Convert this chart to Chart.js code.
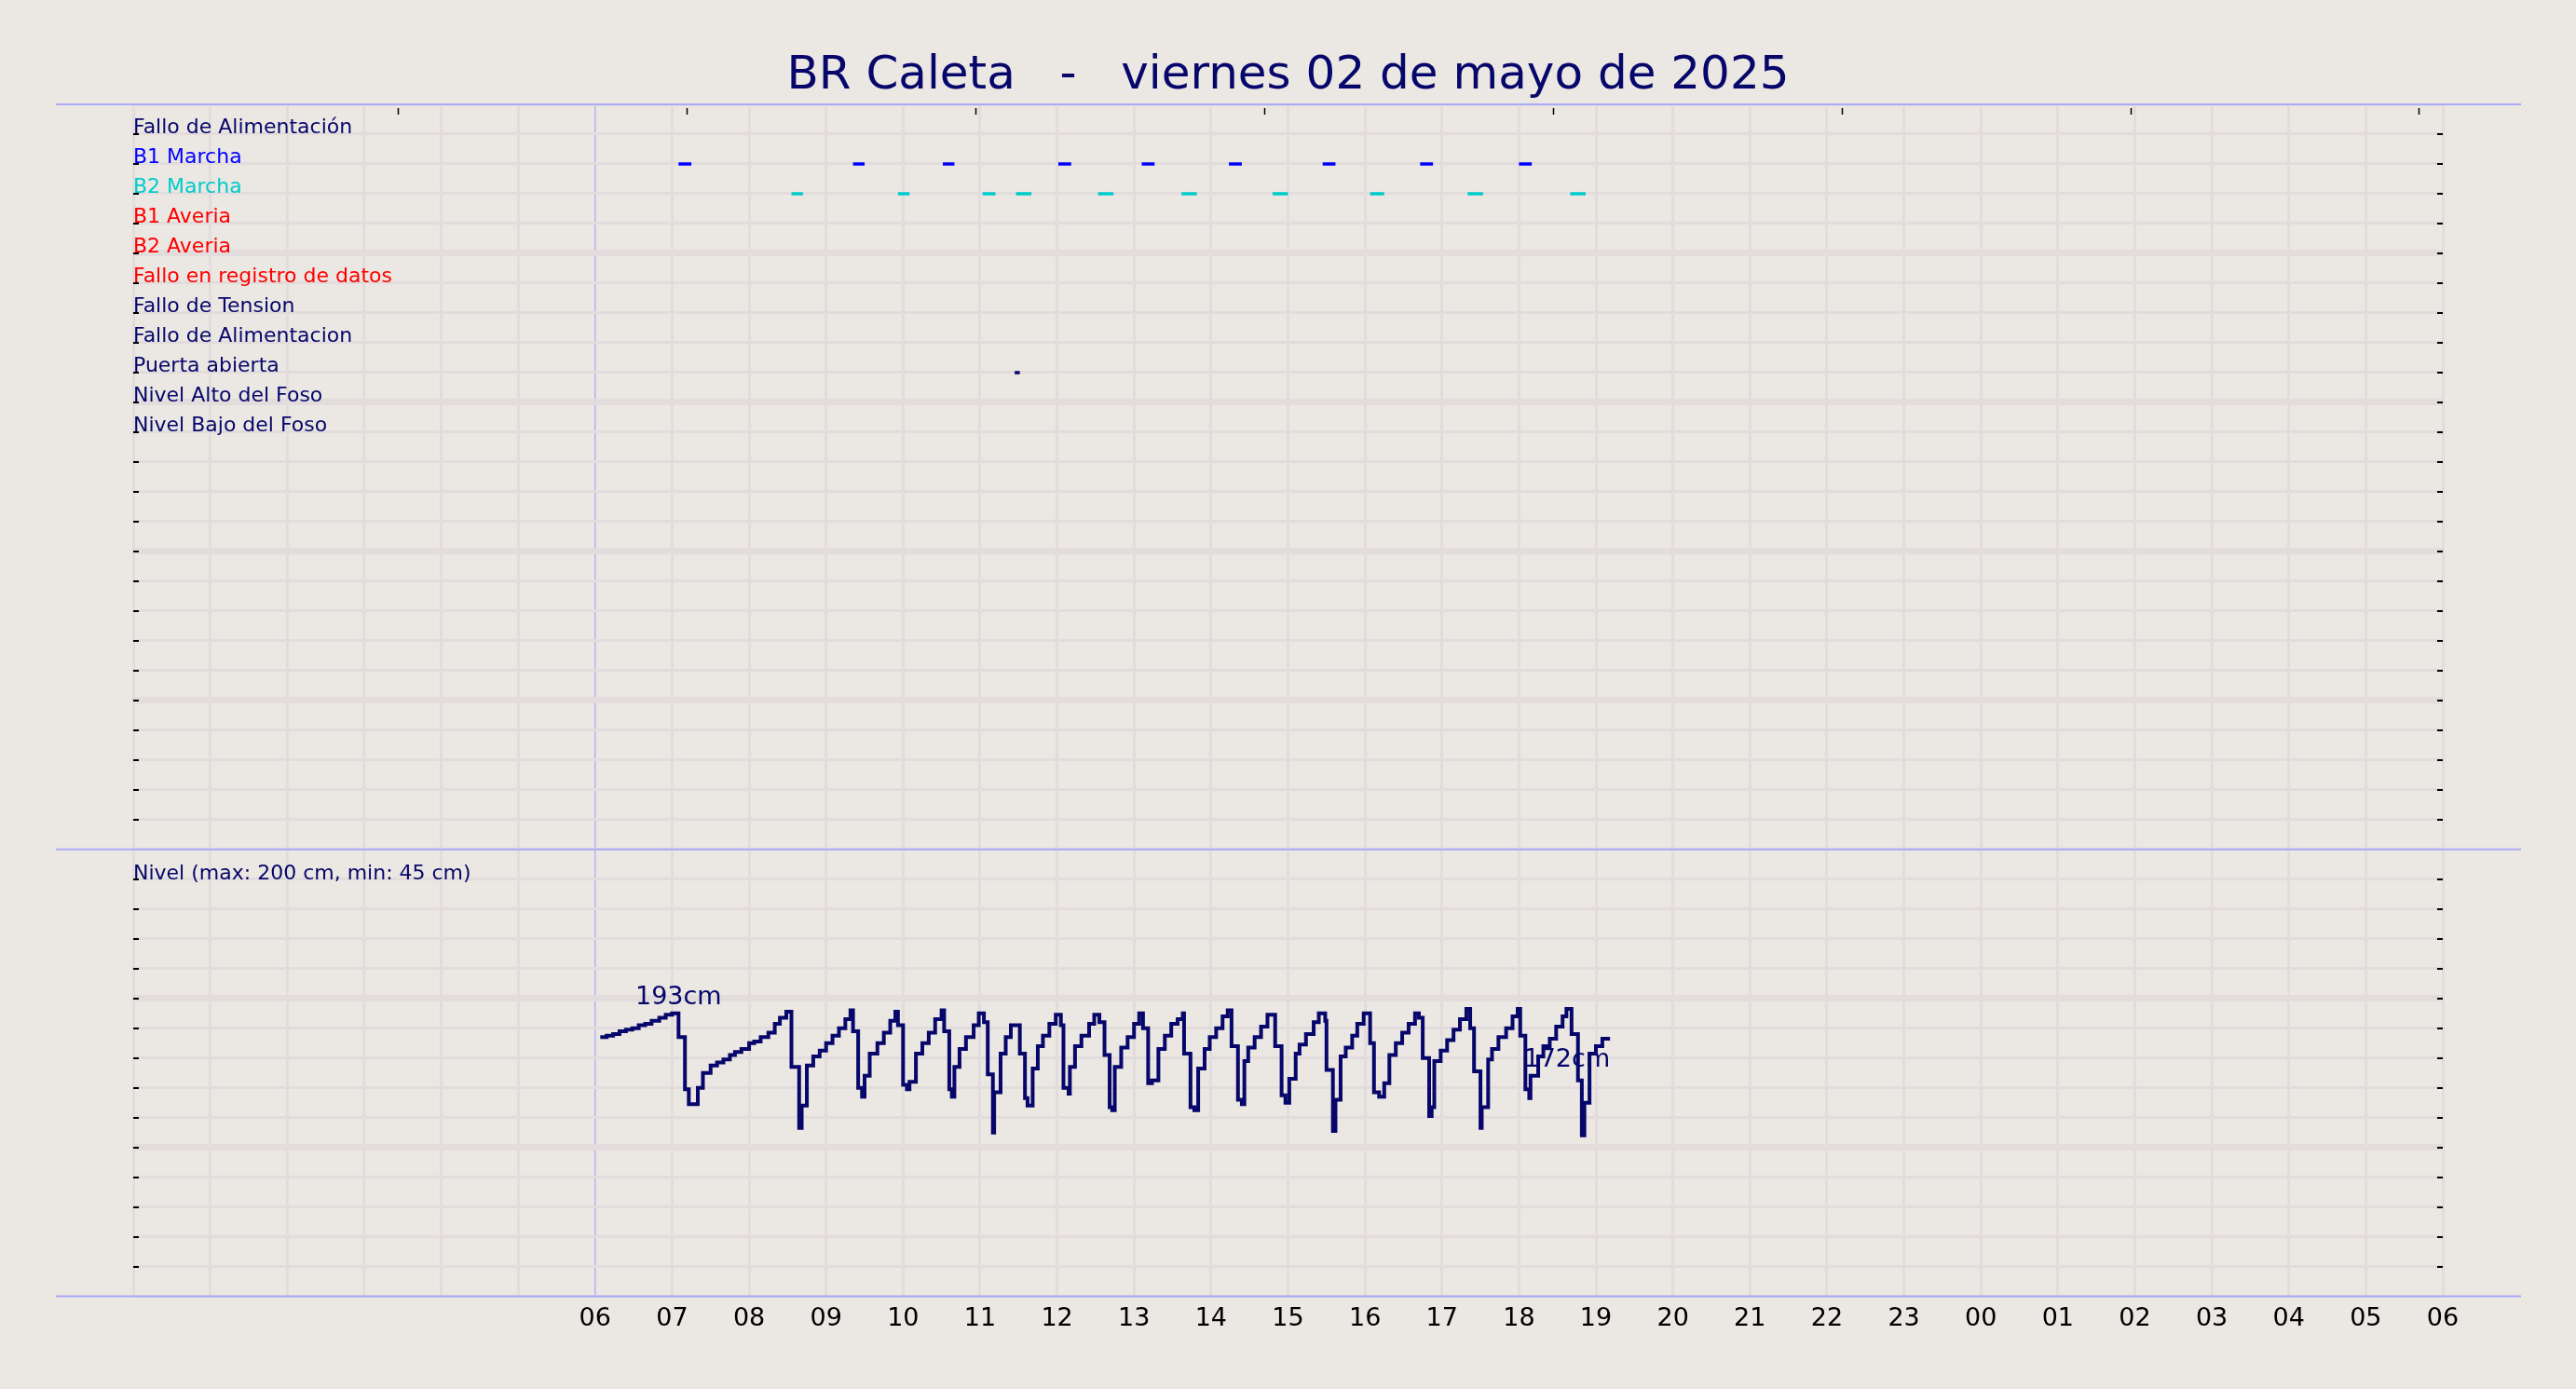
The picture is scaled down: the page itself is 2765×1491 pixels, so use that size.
<!DOCTYPE html>
<html lang="es">
<head>
<meta charset="utf-8">
<title>BR Caleta - Nivel y estados</title>
<script src="https://cdn.jsdelivr.net/npm/chart.js@4.4.1/dist/chart.umd.min.js"></script>
<style>
  html, body { margin: 0; padding: 0; background: #ebe7e2; }
  #chartBox { position: relative; width: 2765px; height: 1491px; }
</style>
</head>
<body>
<div id="chartBox"><canvas id="grafico"></canvas></div>
<script>
const titulo = 'BR Caleta   -   viernes 02 de mayo de 2025';

// -------------------- Datos --------------------
// filas del panel de estados (fila 1 = arriba)
const senales = ['Fallo de Alimentación', 'B1 Marcha', 'B2 Marcha', 'B1 Averia', 'B2 Averia',
    'Fallo en registro de datos', 'Fallo de Tension', 'Fallo de Alimentacion', 'Puerta abierta',
    'Nivel Alto del Foso', 'Nivel Bajo del Foso'];
const coloresSenal = ['#06066b', '#0000ff', '#00cccc', '#ff0000', '#ff0000', '#ff0000',
    '#06066b', '#06066b', '#06066b', '#06066b', '#06066b'];

const b1Inicio = ['07:05', '09:21', '10:31', '12:01', '13:06', '14:14', '15:27', '16:43', '18:00'];
const b1Fin    = ['07:15', '09:30', '10:40', '12:11', '13:16', '14:24', '15:37', '16:53', '18:10'];
const b2Inicio = ['08:33', '09:56', '11:02', '11:28', '12:32', '13:37', '14:48', '16:04', '17:20', '18:40'];
const b2Fin    = ['08:42', '10:05', '11:12', '11:40', '12:44', '13:49', '15:00', '16:15', '17:32', '18:52'];
const puertaInicio = ['11:27'];
const puertaFin    = ['11:31'];

const nivelTexto = 'Nivel (max: 200 cm, min: 45 cm)';
const nivelHora = [
    '06:04', '06:09', '06:14', '06:19', '06:24', '06:29', '06:34', '06:39', '06:44', '06:50', '06:55', '07:00',
    '07:05', '07:10', '07:13', '07:20', '07:24', '07:30', '07:35', '07:40', '07:45', '07:49', '07:54', '08:00',
    '08:04', '08:09', '08:15', '08:20', '08:24', '08:29',
    '08:33', '08:39', '08:41', '08:45', '08:50', '08:55', '09:00', '09:05', '09:10', '09:15', '09:19',
    '09:21', '09:25', '09:28', '09:30', '09:34', '09:40', '09:45', '09:50', '09:54',
    '09:56', '10:00', '10:03', '10:05', '10:10', '10:15', '10:20', '10:25', '10:30',
    '10:32', '10:36', '10:38', '10:40', '10:44', '10:49', '10:55', '10:59',
    '11:03', '11:06', '11:10', '11:11', '11:16', '11:20', '11:24',
    '11:31', '11:35', '11:37', '11:41', '11:45', '11:49', '11:54', '11:59',
    '12:03', '12:05', '12:09', '12:10', '12:14', '12:19', '12:25', '12:29',
    '12:33', '12:37', '12:41', '12:43', '12:45', '12:50', '12:55', '13:00', '13:04',
    '13:07', '13:11', '13:14', '13:19', '13:24', '13:29', '13:34', '13:38',
    '13:39', '13:44', '13:47', '13:50', '13:55', '13:59', '14:04', '14:09', '14:13',
    '14:16', '14:21', '14:24', '14:26', '14:29', '14:34', '14:39', '14:44',
    '14:50', '14:55', '14:58', '15:01', '15:06', '15:09', '15:14', '15:20', '15:24',
    '15:29', '15:30', '15:35', '15:37', '15:41', '15:45', '15:50', '15:54', '15:59',
    '16:04', '16:07', '16:11', '16:15', '16:19', '16:24', '16:29', '16:34', '16:39',
    '16:42', '16:45', '16:50', '16:52', '16:54', '16:59', '17:04', '17:09', '17:14', '17:19',
    '17:22', '17:25', '17:30', '17:31', '17:36', '17:39', '17:44', '17:50', '17:55', '17:59',
    '18:01', '18:05', '18:08', '18:09', '18:15', '18:19', '18:24', '18:29', '18:34', '18:37',
    '18:41', '18:46', '18:49', '18:51', '18:55', '19:00', '19:05', '19:11'
];
const nivelCm = [
    174, 175, 176, 178, 179, 180, 182, 183, 185, 187, 189, 190,
    174, 139, 129, 140, 150, 155, 157, 159, 162, 164, 166, 170,
    171, 174, 177, 183, 187, 191,
    154, 113, 128, 155, 161, 165, 170, 175, 180, 186, 192,
    178, 140, 134, 148, 163, 170, 177, 185, 191,
    182, 142, 139, 144, 163, 170, 177, 186, 192,
    178, 139, 134, 154, 166, 174, 182, 190,
    184, 149, 110, 137, 163, 174, 182,
    163, 133, 128, 153, 168, 175, 183, 189,
    182, 140, 136, 154, 168, 175, 183, 189,
    184, 162, 127, 125, 154, 167, 174, 183, 190,
    180, 143, 145, 166, 175, 183, 186, 190,
    163, 127, 125, 153, 166, 174, 180, 188, 192,
    168, 132, 129, 158, 167, 174, 181, 189,
    168, 135, 130, 146, 163, 169, 176, 184, 190,
    185, 152, 111, 132, 161, 167, 175, 183, 190,
    170, 137, 134, 143, 162, 170, 177, 183, 190,
    187, 160, 121, 127, 158, 165, 172, 179, 186, 193,
    180, 151, 113, 127, 159, 166, 174, 180, 188, 193,
    175, 139, 133, 148, 161, 168, 173, 181, 188, 193,
    176, 145, 108, 130, 163, 168, 173, 173
];

const etiquetaMax = { texto: '193cm', hora: '07:05', cm: 193 };
const etiquetaActual = { texto: '172cm', hora: '19:11', cm: 173 };

// etiquetas del eje horario, desde las 06 hasta las 06 del dia siguiente
const horasEje = ['06', '07', '08', '09', '10', '11', '12', '13', '14', '15', '16', '17', '18',
    '19', '20', '21', '22', '23', '00', '01', '02', '03', '04', '05', '06'];
// marcas cortas en el borde superior (horas)
const ticksSuperiores = [3.44, 7.19, 10.94, 14.69, 18.44, 22.19, 25.94, 29.69];

// -------------------- Estilo --------------------
const navy = '#06066b';
const gridColor = '#e2dcdc';
const lineaAzul = '#aaaaf6';
Chart.defaults.font.family = '"DejaVu Sans", sans-serif';

function aHoras(t) {
    const [h, m] = t.split(':').map(Number);
    return h + m / 60;
}

function tramos(inicio, fin, fila) {
    const pts = [];
    inicio.forEach((t, i) => {
        pts.push({ x: aHoras(t), y: fila }, { x: aHoras(fin[i]), y: fila }, { x: aHoras(fin[i]), y: null });
    });
    return pts;
}

const puntosNivel = nivelHora.map((t, i) => ({ x: aHoras(t), y: nivelCm[i] }));

// -------------------- Dibujo extra (lineas, marcas, etiquetas) --------------------
const decoracion = {
    id: 'decoracion',
    beforeDatasetsDraw(chart) {
        const { ctx, chartArea: a, scales } = chart;
        ctx.save();
        ctx.strokeStyle = lineaAzul;
        ctx.lineWidth = 2;
        [scales.yEstados.top, scales.yEstados.bottom, scales.yNivel.bottom].forEach(y => {
            ctx.beginPath();
            ctx.moveTo(a.left - 83, y);
            ctx.lineTo(a.right + 84, y);
            ctx.stroke();
        });
        ctx.restore();
    },
    afterDatasetsDraw(chart) {
        const { ctx, chartArea: a, scales } = chart;
        ctx.save();
        // marcas interiores a izquierda y derecha
        ctx.strokeStyle = '#000';
        ctx.lineWidth = 2;
        [scales.yEstados, scales.yNivel].forEach(s => {
            s.ticks.forEach(t => {
                if (t.value === s.min || t.value === s.max) return;
                const y = Math.round(s.getPixelForValue(t.value));
                ctx.beginPath();
                ctx.moveTo(a.left, y); ctx.lineTo(a.left + 6, y);
                ctx.moveTo(a.right - 6, y); ctx.lineTo(a.right, y);
                ctx.stroke();
            });
        });
        // marcas del borde superior
        ctx.lineWidth = 1.5;
        ticksSuperiores.forEach(h => {
            const x = Math.round(scales.x.getPixelForValue(h)) + 0.5;
            ctx.beginPath();
            ctx.moveTo(x, a.top + 4);
            ctx.lineTo(x, a.top + 11);
            ctx.stroke();
        });
        // etiquetas del nivel
        ctx.fillStyle = navy;
        ctx.font = '27px "DejaVu Sans"';
        ctx.textBaseline = 'alphabetic';
        ctx.textAlign = 'center';
        ctx.fillText(etiquetaMax.texto, scales.x.getPixelForValue(aHoras(etiquetaMax.hora)),
            scales.yNivel.getPixelForValue(etiquetaMax.cm) - 5);
        ctx.textAlign = 'right';
        ctx.fillText(etiquetaActual.texto, scales.x.getPixelForValue(aHoras(etiquetaActual.hora)),
            scales.yNivel.getPixelForValue(etiquetaActual.cm) + 30);
        ctx.restore();
    }
};

// -------------------- Grafico --------------------
new Chart(document.getElementById('grafico'), {
    type: 'line',
    data: {
        datasets: [
            { label: 'B1 Marcha', yAxisID: 'yEstados', data: tramos(b1Inicio, b1Fin, 2),
              borderColor: '#0000ff', borderWidth: 3.5, pointRadius: 0, borderCapStyle: 'butt' },
            { label: 'B2 Marcha', yAxisID: 'yEstados', data: tramos(b2Inicio, b2Fin, 3),
              borderColor: '#00cccc', borderWidth: 3.5, pointRadius: 0, borderCapStyle: 'butt' },
            { label: 'Puerta abierta', yAxisID: 'yEstados', data: tramos(puertaInicio, puertaFin, 9),
              borderColor: navy, borderWidth: 3.5, pointRadius: 0, borderCapStyle: 'butt' },
            // cada valor se mantiene hasta la siguiente lectura
            { label: 'Nivel', yAxisID: 'yNivel', data: puntosNivel, stepped: 'before',
              borderColor: navy, borderWidth: 4, pointRadius: 0, borderJoinStyle: 'miter' }
        ]
    },
    options: {
        responsive: true,
        maintainAspectRatio: false,
        animation: false,
        events: [],
        layout: { padding: { left: 143, right: 143, top: 0, bottom: 51 } },
        plugins: {
            legend: { display: false },
            tooltip: { enabled: false },
            title: {
                display: true,
                text: titulo,
                color: navy,
                font: { size: 50, weight: 'normal', lineHeight: 1.2 },
                padding: { top: 52, bottom: 0 }
            }
        },
        scales: {
            x: {
                type: 'linear', min: 0, max: 30,
                ticks: {
                    stepSize: 1, autoSkip: false, maxRotation: 0, padding: 8,
                    color: '#000', font: { size: 27 },
                    callback: v => (v >= 6 ? horasEje[v - 6] : '')
                },
                grid: {
                    drawTicks: false,
                    color: c => (c.tick && c.tick.value === 6 ? '#b4b4f4' : gridColor),
                    lineWidth: c => (c.tick && c.tick.value === 6 ? 1.5 : 3)
                },
                border: { display: false }
            },
            yNivel: {
                type: 'linear', position: 'left', stack: 'paneles', stackWeight: 15,
                min: 0, max: 300,
                ticks: {
                    stepSize: 20, mirror: true, padding: 0, labelOffset: -5, autoSkip: false,
                    color: navy, font: { size: 22 },
                    callback: v => (v === 280 ? nivelTexto : '')
                },
                grid: {
                    drawTicks: false, color: gridColor,
                    lineWidth: c => (c.tick && c.tick.value % 100 === 0 && c.tick.value > 0 && c.tick.value < 300 ? 7 : 3)
                },
                border: { display: false }
            },
            yEstados: {
                type: 'linear', position: 'left', stack: 'paneles', stackWeight: 25,
                min: 0, max: 25, reverse: true,
                ticks: {
                    stepSize: 1, mirror: true, padding: 0, labelOffset: -6.5, autoSkip: false,
                    font: { size: 22 },
                    color: c => (c.tick && c.tick.value >= 1 && c.tick.value <= senales.length ? coloresSenal[c.tick.value - 1] : navy),
                    callback: v => (v >= 1 && v <= senales.length ? senales[v - 1] : '')
                },
                grid: {
                    drawTicks: false, color: gridColor,
                    lineWidth: c => (c.tick && c.tick.value % 5 === 0 && c.tick.value > 0 && c.tick.value < 25 ? 7 : 3)
                },
                border: { display: false }
            }
        }
    },
    plugins: [decoracion]
});
</script>
</body>
</html>
